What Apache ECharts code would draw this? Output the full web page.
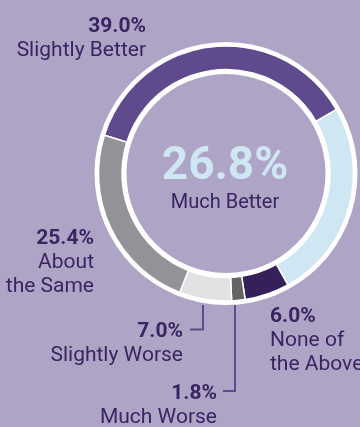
<!DOCTYPE html>
<html>
<head>
<meta charset="utf-8">
<script src="https://cdn.jsdelivr.net/npm/echarts@6/dist/echarts.min.js"></script>
<style>
  html, body { margin: 0; padding: 0; background: #aea4c6; }
  #chart { width: 360px; height: 427px; }
</style>
</head>
<body>
<div id="chart"></div>
<script>
// Survey answers, drawn clockwise from the upper left
const categories = ['Slightly Better', 'Much Better', 'None of the Above', 'Much Worse', 'Slightly Worse', 'About the Same'];
const values = [39.0, 26.8, 6.0, 1.8, 7.0, 25.4];
const labelLines = [['Slightly Better'], ['Much Better'], ['None of', 'the Above'], ['Much Worse'], ['Slightly Worse'], ['About', 'the Same']];

const sliceColors = ['#5e4a8c', '#cfe6f3', '#36205a', '#636466', '#e1e2e4', '#929396'];
const textColor = '#3b2462';
const leaderColor = '#5e4a8c';
const FONT = 'Roboto, "Noto Sans", sans-serif';

const cx = 226, cy = 173.5;

// label anchors: x, baseline of the value line, alignment
const labelAnchors = {
  'Slightly Better':   { x: 146, y: 33,  align: 'right' },
  'None of the Above': { x: 270, y: 323, align: 'left' },
  'Much Worse':        { x: 217, y: 400, align: 'right' },
  'Slightly Worse':    { x: 183, y: 338, align: 'right' },
  'About the Same':    { x: 94,  y: 245, align: 'right' }
};
const leaders = {
  'Slightly Worse': [[203, 305], [203, 329.5], [190, 329.5]],
  'Much Worse':     [[235, 305], [235, 391], [223, 391]]
};

const fmt = v => v.toFixed(1) + '%';

// text placed by its top edge; shift so the glyph baseline lands on `baseline`
function textAt(text, x, baseline, align, size, weight, fill) {
  return {
    type: 'text', silent: true,
    style: { text, x, y: baseline - 0.79 * size, align, verticalAlign: 'top',
             font: weight + ' ' + size + 'px ' + FONT, fill }
  };
}

const graphics = [];
categories.forEach((name, i) => {
  const a = labelAnchors[name];
  if (!a) return;
  graphics.push(textAt(fmt(values[i]), a.x, a.y, a.align, 21, 'bold', textColor));
  labelLines[i].forEach((line, k) => {
    graphics.push(textAt(line, a.x, a.y + 24 * (k + 1), a.align, 21, 'normal', textColor));
  });
  if (leaders[name]) {
    graphics.push({
      type: 'polyline', silent: true,
      shape: { points: leaders[name] },
      style: { stroke: leaderColor, lineWidth: 2, fill: null }
    });
  }
});

// headline answer in the middle of the ring
const mainIdx = categories.indexOf('Much Better');
graphics.push(textAt(fmt(values[mainIdx]), 225, 181, 'center', 46, 'bold', sliceColors[mainIdx]));
graphics.push(textAt(labelLines[mainIdx][0], 225, 209, 'center', 20, 'normal', textColor));

const ringBase = {
  type: 'pie', center: [cx, cy], silent: true, animation: false,
  label: { show: false }, labelLine: { show: false },
  itemStyle: { color: '#ffffff', borderWidth: 0 },
  data: [{ value: 1 }]
};

const chart = echarts.init(document.getElementById('chart'), null, { renderer: 'canvas' });
chart.setOption({
  backgroundColor: '#aea4c6',
  animation: false,
  series: [
    Object.assign({}, ringBase, { radius: [127, 131.5] }),
    Object.assign({}, ringBase, { radius: [99.5, 104.5] }),
    {
      type: 'pie',
      center: [cx, cy],
      radius: [104, 127.5],
      startAngle: 162.5,
      clockwise: true,
      silent: true,
      animation: false,
      label: { show: false },
      labelLine: { show: false },
      itemStyle: { borderColor: '#ffffff', borderWidth: 1.5 },
      data: categories.map((name, i) => ({ name, value: values[i], itemStyle: { color: sliceColors[i] } }))
    }
  ],
  graphic: graphics
});
</script>
</body>
</html>
